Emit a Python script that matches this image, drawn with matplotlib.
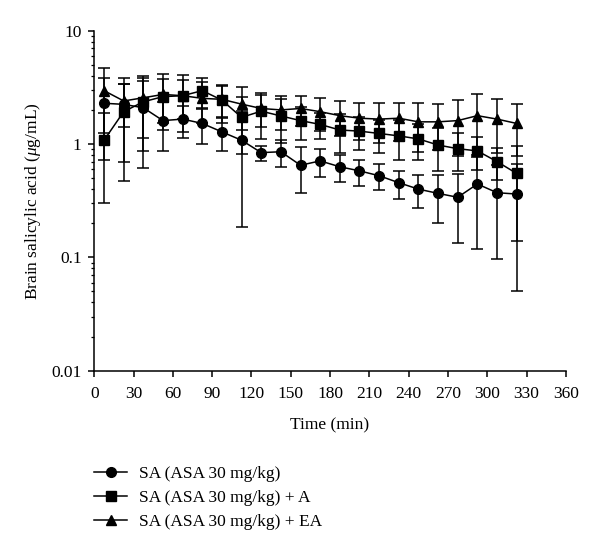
import matplotlib
matplotlib.use("Agg")
import matplotlib.pyplot as plt
from matplotlib.lines import Line2D

# === DATA ===
time_min = [7.5, 22.5, 37.5, 52.5, 67.5, 82.5, 97.5, 112.5, 127.5, 142.5, 157.5,
            172.5, 187.5, 202.5, 217.5, 232.5, 247.5, 262.5, 277.5, 292.5, 307.5, 322.5]

# SA (ASA 30 mg/kg)
sa_mean = [2.29, 2.24, 2.09, 1.61, 1.66, 1.52, 1.28, 1.08, 0.84, 0.855, 0.65,
           0.71, 0.63, 0.58, 0.525, 0.456, 0.40, 0.367, 0.339, 0.444, 0.372, 0.362]
sa_sd = [1.56, 1.55, 1.48, 0.75, 0.52, 0.51, 0.41, 0.894, 0.13, 0.225, 0.283,
         0.20, 0.165, 0.15, 0.135, 0.126, 0.13, 0.167, 0.206, 0.326, 0.275, 0.311]

# SA (ASA 30 mg/kg) + A
a_mean = [1.08, 1.93, 2.36, 2.62, 2.67, 2.96, 2.44, 1.72, 1.95, 1.77, 1.61,
          1.49, 1.33, 1.30, 1.24, 1.18, 1.11, 0.98, 0.91, 0.87, 0.70, 0.55]
a_sd = [0.78, 1.46, 1.5, 1.1, 1.0, 0.89, 0.9, 0.9, 0.85, 0.75, 0.53,
        0.39, 0.5, 0.42, 0.40, 0.46, 0.38, 0.40, 0.33, 0.28, 0.22, 0.41]

# SA (ASA 30 mg/kg) + EA
ea_mean = [2.96, 2.40, 2.56, 2.74, 2.67, 2.53, 2.48, 2.25, 2.06, 2.0, 2.06,
           1.93, 1.78, 1.69, 1.66, 1.69, 1.57, 1.57, 1.61, 1.78, 1.66, 1.52]
ea_sd = [1.70, 1.0, 1.42, 1.4, 1.4, 1.0, 0.75, 0.91, 0.64, 0.67, 0.61,
         0.63, 0.61, 0.6, 0.63, 0.62, 0.72, 0.68, 0.83, 0.98, 0.82, 0.73]

labels = ["SA (ASA 30 mg/kg)", "SA (ASA 30 mg/kg) + A", "SA (ASA 30 mg/kg) + EA"]
markers = ["o", "s", "^"]

x_ticks = list(range(0, 361, 30))
y_ticks = [0.01, 0.1, 1, 10]
y_ticklabels = ["0.01", "0.1", "1", "10"]

# === STYLE ===
plt.rcParams["font.family"] = ["Liberation Serif", "DejaVu Serif"]
plt.rcParams["font.size"] = 12.5
plt.rcParams["mathtext.fontset"] = "custom"
plt.rcParams["mathtext.rm"] = "Liberation Serif"
plt.rcParams["mathtext.it"] = "Liberation Serif:italic"

fig = plt.figure(figsize=(6.0, 5.36), dpi=100)
ax = fig.add_axes([0.157, 0.3084, 0.786, 0.6343])

series = [(sa_mean, sa_sd), (a_mean, a_sd), (ea_mean, ea_sd)]
for (mean, sd), mk in zip(series, markers):
    ax.errorbar(time_min, mean, yerr=sd, fmt="none", ecolor="black",
                elinewidth=1.1, capsize=4, capthick=1.1, zorder=2)
    ax.plot(time_min, mean, color="black", lw=1.1, marker=mk, markersize=7,
            zorder=3)

ax.set_yscale("log")
ax.set_xlim(0, 360)
ax.set_ylim(0.01, 10)
ax.set_xticks(x_ticks)
ax.set_yticks(y_ticks)
ax.set_yticklabels(y_ticklabels)

ax.spines["top"].set_visible(False)
ax.spines["right"].set_visible(False)
for s in ["left", "bottom"]:
    ax.spines[s].set_linewidth(1.1)
ax.tick_params(axis="both", which="major", direction="out", length=4, width=1.1)
ax.tick_params(axis="x", which="major", pad=7)
ax.tick_params(axis="y", which="major", pad=5)
ax.tick_params(axis="y", which="minor", direction="out", length=2.5, width=0.9)

ax.set_xlabel("Time (min)", labelpad=11)
ax.set_ylabel("Brain salicylic acid ($\\mu$g/mL)", labelpad=6)

handles = [Line2D([], [], color="black", lw=1.1, marker=mk, markersize=7)
           for mk in markers]
fig.legend(handles, labels, loc="upper left",
           bbox_to_anchor=(0.157, 1 - 466 / 536), frameon=False,
           handlelength=1.9, handletextpad=0.7, labelspacing=0.45,
           borderpad=0, borderaxespad=0)

fig.savefig("out.png", dpi=100)
